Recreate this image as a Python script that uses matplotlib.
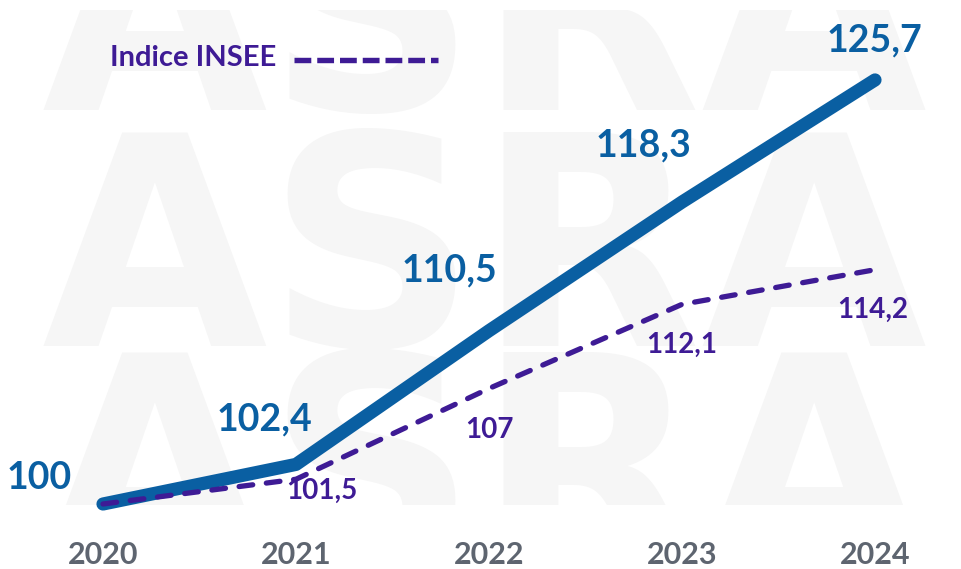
import matplotlib
matplotlib.use("Agg")
import matplotlib.pyplot as plt
from matplotlib.lines import Line2D

years = [2020, 2021, 2022, 2023, 2024]
year_labels = ["2020", "2021", "2022", "2023", "2024"]
loyer_index = [100, 102.4, 110.5, 118.3, 125.7]
insee_index = [100, 101.5, 107, 112.1, 114.2]
loyer_labels = ["100", "102,4", "110,5", "118,3", "125,7"]
insee_labels = ["", "101,5", "107", "112,1", "114,2"]
legend_label = "Indice INSEE"
watermark = "ASRA"

BLUE = "#0a5fa2"
PURPLE = "#3e1b95"
GRAY = "#5e6570"
WM = "#f6f6f6"
FONT = ["Lato", "DejaVu Sans"]

W, H = 962, 569
fig = plt.figure(figsize=(W / 100, H / 100), dpi=100)
fig.patch.set_facecolor("white")

# plot area in pixel units
L, R, T, B = 8, 962, 10, 505
ax = fig.add_axes([L / W, (H - B) / H, (R - L) / W, (B - T) / H])
ax.set_facecolor("white")
for s in ax.spines.values():
    s.set_visible(False)

px_per_year = 193.0
px_per_unit = 16.5
x0_px, y0_px = 103, 504
ax.set_xlim(2020 - (x0_px - L) / px_per_year, 2020 + (R - x0_px) / px_per_year)
ax.set_ylim(100 - (B - y0_px) / px_per_unit, 100 + (y0_px - T) / px_per_unit)

# faint watermark lettering behind the chart
for yc in [30, 265, 485]:
    ax.text(0.5, 1 - (yc - T) / (B - T), watermark, transform=ax.transAxes,
            ha="center", va="center", fontsize=210, fontweight="bold",
            family="DejaVu Sans", color=WM, zorder=0, clip_on=True)

ax.plot(years, loyer_index, color=BLUE, lw=9.5, solid_capstyle="round",
        solid_joinstyle="round", zorder=3, clip_on=False)
ax.plot(years, insee_index, color=PURPLE, lw=3.8, dash_capstyle="round",
        dashes=(2.6, 2.6), zorder=4, clip_on=False)

# value labels, offsets in pixels
def px_text(x, y, dx, dy, s, **kw):
    ax.annotate(s, (x, y), xytext=(dx * 0.72, dy * 0.72), textcoords="offset points",
                ha="center", va="center", family=FONT, fontweight="bold",
                annotation_clip=False, **kw)

loyer_off = [(-64, -26), (-32, -45), (-40, -60), (-39, -57), (-1, -39)]
for x, y, s, (dx, dy) in zip(years, loyer_index, loyer_labels, loyer_off):
    px_text(x, y, dx, -dy, s, fontsize=27, color=BLUE, zorder=5)

insee_off = [(0, 0), (26, 12), (0, 42), (0, 41), (-2, 40)]
for x, y, s, (dx, dy) in zip(years, insee_index, insee_labels, insee_off):
    if s:
        px_text(x, y, dx, -dy, s, fontsize=20, color=PURPLE, zorder=5)

ax.set_xticks(years)
ax.set_xticklabels(year_labels, family=FONT, fontweight="bold", fontsize=22, color=GRAY)
ax.tick_params(axis="x", length=0, pad=26)
ax.set_yticks([])

# legend drawn in figure pixels
fig.text(110 / W, 1 - 58 / H, legend_label, ha="left", va="center", family=FONT,
         fontweight="bold", fontsize=21, color=PURPLE)
fig.add_artist(Line2D([294 / W, 438 / W], [1 - 60 / H, 1 - 60 / H], transform=fig.transFigure,
                      color=PURPLE, lw=3.9, dashes=(3.1, 1.1), solid_capstyle="butt",
                      dash_capstyle="butt"))

fig.savefig("out.png", dpi=100, facecolor="white")
